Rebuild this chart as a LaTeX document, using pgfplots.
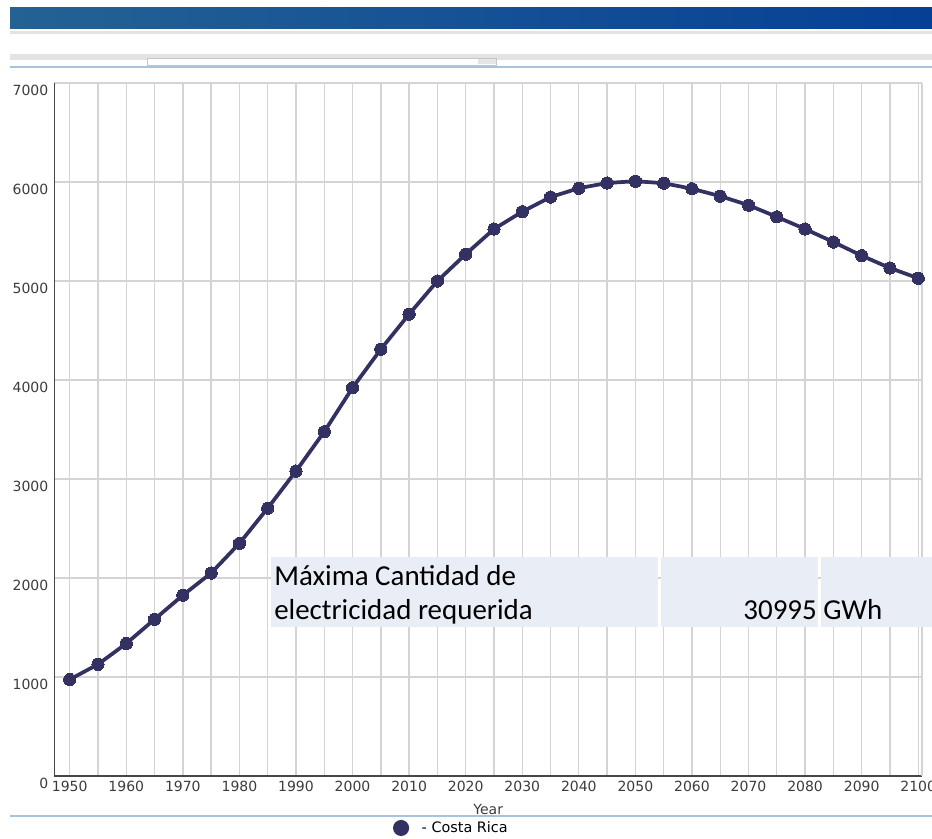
\documentclass[border=0pt]{standalone}
\usepackage{fontspec}
\setmainfont{DejaVu Sans}
\newfontfamily\calibri{Carlito}
\usepackage{pgfplots}
\usepackage{pgfplotstable}
\pgfplotsset{compat=1.18}
\definecolor{series}{RGB}{50,49,98}
\definecolor{gridc}{RGB}{212,212,212}
\definecolor{tickc}{RGB}{60,60,60}
\definecolor{cellc}{RGB}{233,237,245}
\definecolor{sepblue}{RGB}{168,196,220}
\definecolor{barL}{RGB}{36,98,148}
\definecolor{barR}{RGB}{6,64,150}

\pgfplotstableread{
year value
1950 975
1955 1128
1960 1338
1965 1583
1970 1826
1975 2050
1980 2350
1985 2705
1990 3080
1995 3478
2000 3922
2005 4311
2010 4665
2015 5000
2020 5271
2025 5525
2030 5700
2035 5848
2040 5937
2045 5990
2050 6008
2055 5988
2060 5932
2065 5857
2070 5766
2075 5648
2080 5525
2085 5394
2090 5256
2095 5131
2100 5028
}\data

\begin{document}
\begin{tikzpicture}[x=0.75pt,y=0.75pt]
% header decoration
\shade[left color=barL, right color=barR] (10,810) rectangle (932,831);
\fill[gray!22] (10,805) rectangle (932,807.5);
\fill[gray!22] (10,779) rectangle (932,785);
\filldraw[fill=white, draw=gray!45, line width=0.6pt] (147,774) rectangle (496,781);
\fill[gray!20] (478,774.5) rectangle (495.5,780);
\fill[sepblue] (10,770.5) rectangle (932,772.5);
\fill[sepblue] (10,22) rectangle (932,24);

\begin{axis}[
  at={(40.875pt,47.25pt)}, anchor=south west,
  scale only axis, width=650.6pt, height=519.75pt,
  xmin=1947.31, xmax=2100.66, ymin=0, ymax=7000,
  clip=false,
  axis line style={draw=none},
  xtick={1950,1960,...,2100},
  minor xtick={1955,1965,...,2095},
  ytick={0,1000,...,7000},
  major tick length=0pt, minor tick length=0pt,
  grid=both,
  major grid style={draw=gridc, line width=1pt},
  minor grid style={draw=gridc, line width=1pt},
  /pgf/number format/.cd, assume math mode=true, 1000 sep={},
  /pgfplots/.cd,
  ticklabel style={font=\fontsize{10.5}{12}\selectfont, text=tickc},
  yticklabel style={anchor=east, inner sep=0pt, xshift=-4.5pt, yshift=-5.2pt},
  xticklabel style={anchor=north, inner sep=0pt, yshift=-3.75pt},
  xlabel={Year},
  xlabel style={at={(axis description cs:0.5,0)}, anchor=center, yshift=-24.75pt,
    font=\fontsize{10.5}{12}\selectfont, text=tickc, inner sep=0pt},
  legend style={at={(axis description cs:0.390,-0.075)}, anchor=west,
    draw=none, fill=none, inner sep=0pt,
    nodes={inner sep=0pt},
    /tikz/every odd column/.append style={column sep=9.5pt},
    font=\fontsize{10.8}{12}\selectfont},
  legend cell align=left,
  legend image code/.code={\fill[series] (0pt,0pt) circle (4.6pt);},
]
\draw[draw={rgb,255:red,70;green,70;blue,70}, line width=1.3pt] (rel axis cs:0,0) -- (rel axis cs:0,1);
\draw[draw={rgb,255:red,70;green,70;blue,70}, line width=1.3pt] (rel axis cs:0,0) -- (rel axis cs:1,0);
\draw[draw=gridc, line width=1pt] (rel axis cs:1,0) -- (rel axis cs:1,1);
\addplot[series, line width=2.8pt, mark=*, mark size=4.6pt,
  mark options={fill=series, draw=series, line width=0pt}] table[x=year, y=value] {\data};
\addlegendentry{- Costa Rica}
\end{axis}

% annotation table
\fill[cellc] (271,212) rectangle (658,282);
\fill[cellc] (661,212) rectangle (818,282);
\fill[cellc] (821,212) rectangle (935,282);
\node[anchor=base west, inner sep=0pt, font=\calibri\fontsize{21.7}{26}\selectfont] at (274,253) {Máxima Cantidad de};
\node[anchor=base west, inner sep=0pt, font=\calibri\fontsize{21.7}{26}\selectfont] at (274,219) {electricidad requerida};
\node[anchor=base east, inner sep=0pt, font=\calibri\fontsize{21.7}{26}\selectfont] at (817,219) {30995};
\node[anchor=base west, inner sep=0pt, font=\calibri\fontsize{21.7}{26}\selectfont] at (823,219) {GWh};

\pgfresetboundingbox
\useasboundingbox (0,0) rectangle (932,839);
\end{tikzpicture}
\end{document}
